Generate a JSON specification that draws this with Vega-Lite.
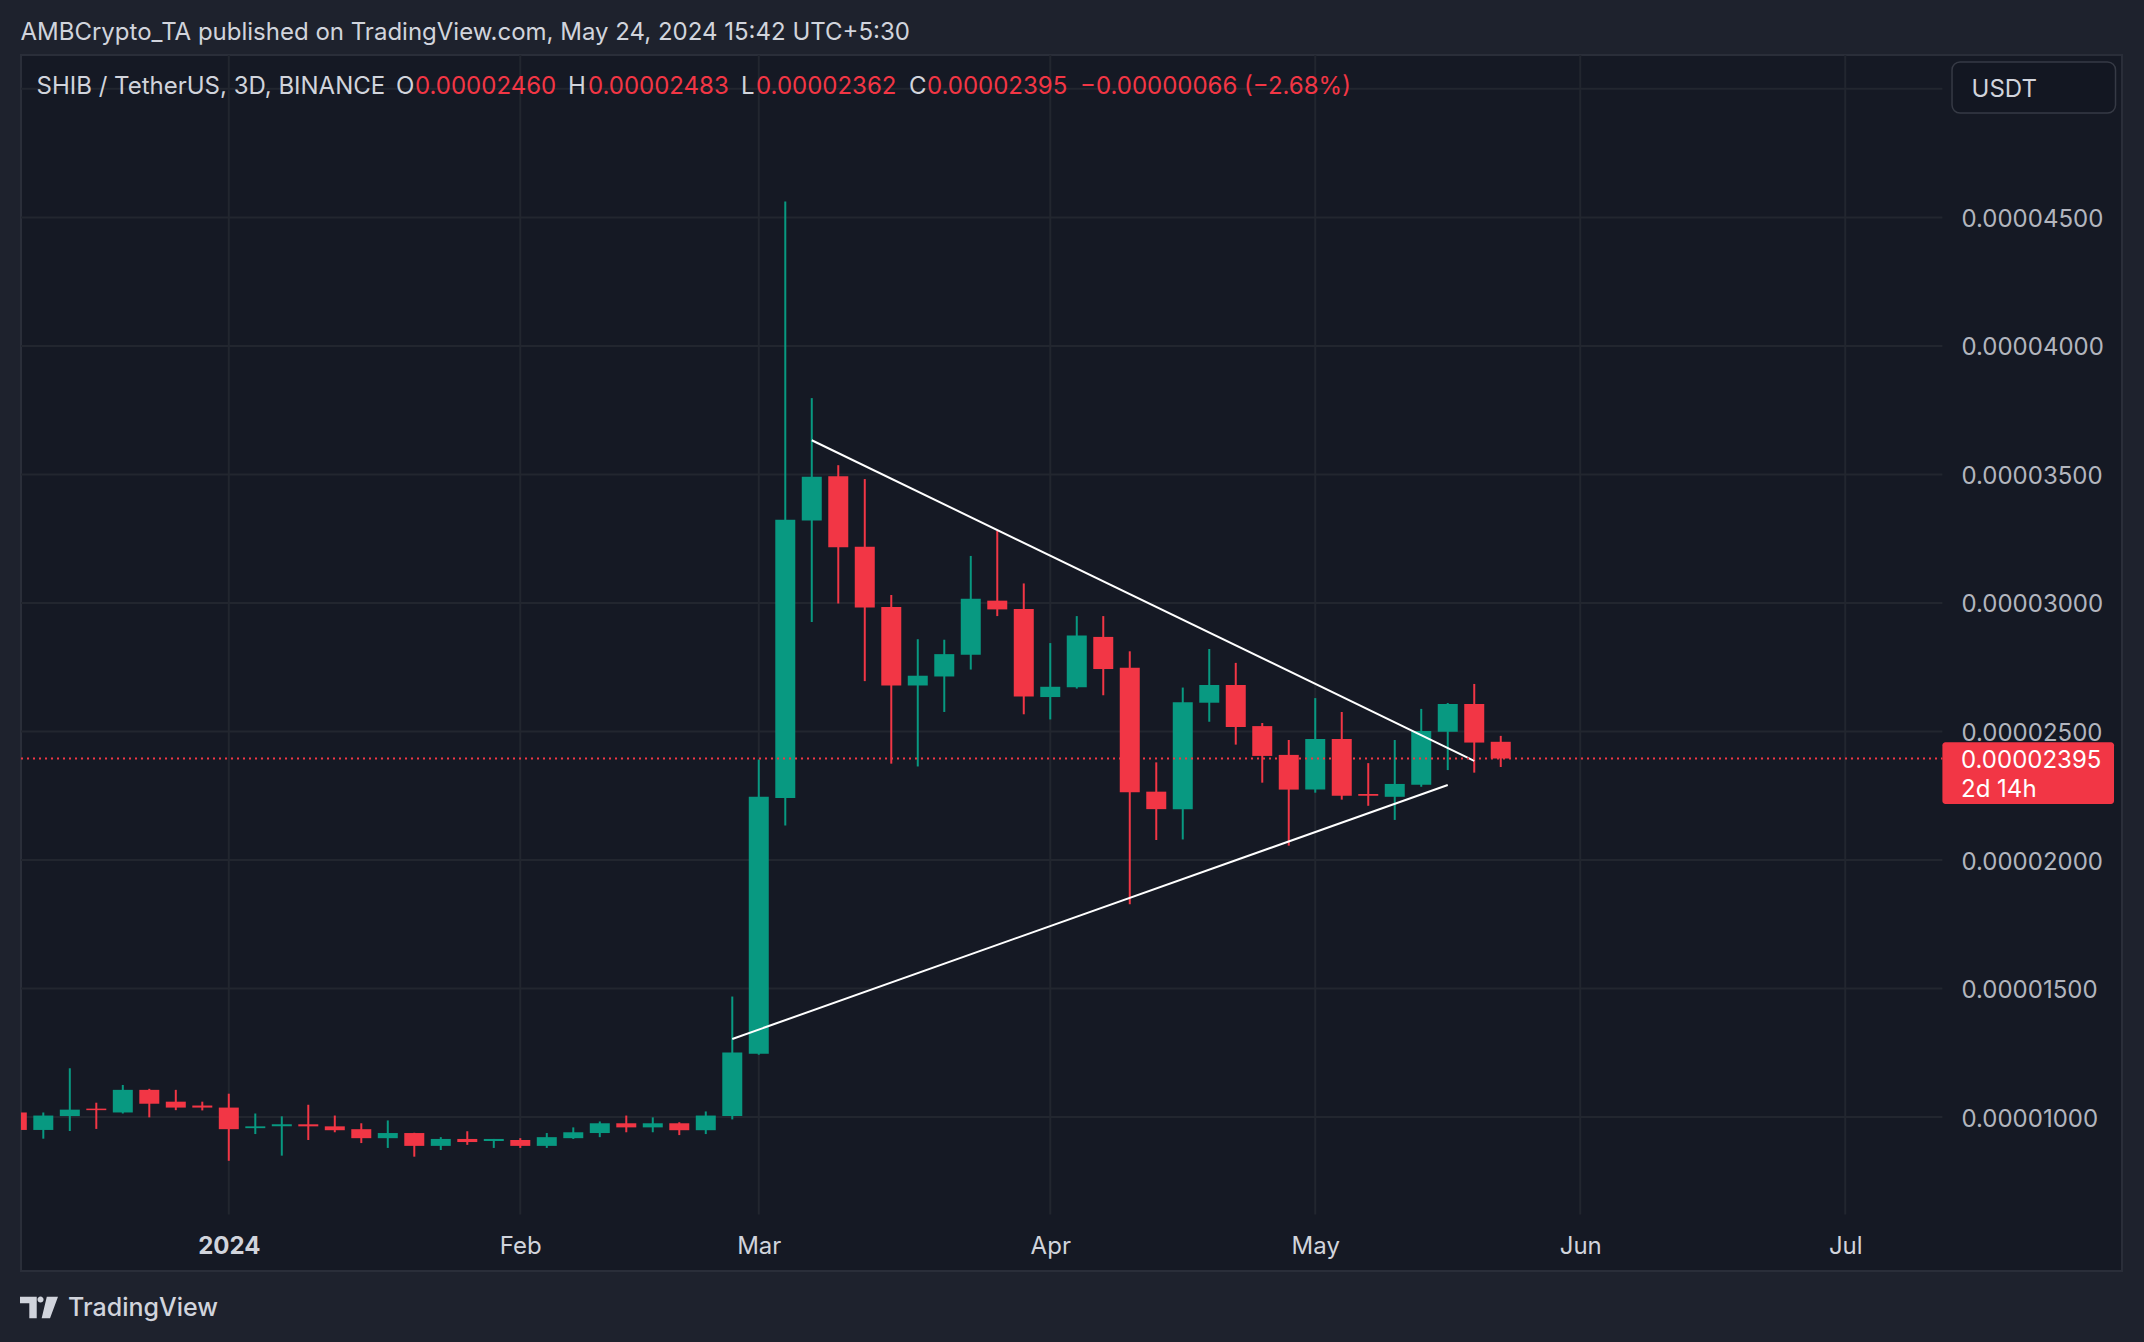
{
  "$schema": "https://vega.github.io/schema/vega-lite/v6.json",
  "width": 2101,
  "height": 1216,
  "autosize": {"type": "none"},
  "padding": {"left": 21, "top": 55, "right": 22, "bottom": 71},
  "background": "#1e222d",
  "config": {
    "view": {"fill": "#151924", "stroke": "#2a2e39", "strokeWidth": 2},
    "font": "Inter",
    "scale": {"continuousPadding": 0}
  },
  "datasets": {
    "candles": [
      {"date": "2023-12-08", "open": 1018e-8, "high": 1020e-8, "low": 945e-8, "close": 950e-8},
      {"date": "2023-12-11", "open": 950e-8, "high": 1018e-8, "low": 916e-8, "close": 1006e-8},
      {"date": "2023-12-14", "open": 1004e-8, "high": 1190e-8, "low": 946e-8, "close": 1029e-8},
      {"date": "2023-12-17", "open": 1033e-8, "high": 1056e-8, "low": 954e-8, "close": 1027e-8},
      {"date": "2023-12-20", "open": 1018e-8, "high": 1125e-8, "low": 1014e-8, "close": 1106e-8},
      {"date": "2023-12-23", "open": 1106e-8, "high": 1110e-8, "low": 999e-8, "close": 1052e-8},
      {"date": "2023-12-26", "open": 1060e-8, "high": 1106e-8, "low": 1027e-8, "close": 1037e-8},
      {"date": "2023-12-29", "open": 1045e-8, "high": 1060e-8, "low": 1026e-8, "close": 1037e-8},
      {"date": "2024-01-01", "open": 1037e-8, "high": 1091e-8, "low": 830e-8, "close": 953e-8},
      {"date": "2024-01-04", "open": 957e-8, "high": 1014e-8, "low": 934e-8, "close": 964e-8},
      {"date": "2024-01-07", "open": 964e-8, "high": 1003e-8, "low": 850e-8, "close": 972e-8},
      {"date": "2024-01-10", "open": 972e-8, "high": 1048e-8, "low": 911e-8, "close": 964e-8},
      {"date": "2024-01-13", "open": 964e-8, "high": 1006e-8, "low": 941e-8, "close": 949e-8},
      {"date": "2024-01-16", "open": 953e-8, "high": 976e-8, "low": 899e-8, "close": 918e-8},
      {"date": "2024-01-19", "open": 918e-8, "high": 987e-8, "low": 880e-8, "close": 938e-8},
      {"date": "2024-01-22", "open": 938e-8, "high": 939e-8, "low": 846e-8, "close": 888e-8},
      {"date": "2024-01-25", "open": 888e-8, "high": 922e-8, "low": 872e-8, "close": 915e-8},
      {"date": "2024-01-28", "open": 915e-8, "high": 945e-8, "low": 892e-8, "close": 903e-8},
      {"date": "2024-01-31", "open": 907e-8, "high": 915e-8, "low": 880e-8, "close": 915e-8},
      {"date": "2024-02-03", "open": 911e-8, "high": 918e-8, "low": 880e-8, "close": 888e-8},
      {"date": "2024-02-06", "open": 888e-8, "high": 938e-8, "low": 880e-8, "close": 922e-8},
      {"date": "2024-02-09", "open": 918e-8, "high": 960e-8, "low": 915e-8, "close": 941e-8},
      {"date": "2024-02-12", "open": 938e-8, "high": 983e-8, "low": 922e-8, "close": 976e-8},
      {"date": "2024-02-15", "open": 976e-8, "high": 1006e-8, "low": 941e-8, "close": 960e-8},
      {"date": "2024-02-18", "open": 960e-8, "high": 999e-8, "low": 941e-8, "close": 976e-8},
      {"date": "2024-02-21", "open": 976e-8, "high": 980e-8, "low": 930e-8, "close": 949e-8},
      {"date": "2024-02-24", "open": 949e-8, "high": 1022e-8, "low": 934e-8, "close": 1006e-8},
      {"date": "2024-02-27", "open": 1004e-8, "high": 1469e-8, "low": 991e-8, "close": 1251e-8},
      {"date": "2024-03-01", "open": 1246e-8, "high": 2391e-8, "low": 1243e-8, "close": 2246e-8},
      {"date": "2024-03-04", "open": 2241e-8, "high": 4562e-8, "low": 2134e-8, "close": 3324e-8},
      {"date": "2024-03-07", "open": 3321e-8, "high": 3797e-8, "low": 2926e-8, "close": 3491e-8},
      {"date": "2024-03-10", "open": 3493e-8, "high": 3536e-8, "low": 2998e-8, "close": 3217e-8},
      {"date": "2024-03-13", "open": 3219e-8, "high": 3482e-8, "low": 2696e-8, "close": 2982e-8},
      {"date": "2024-03-16", "open": 2984e-8, "high": 3031e-8, "low": 2375e-8, "close": 2679e-8},
      {"date": "2024-03-19", "open": 2679e-8, "high": 2859e-8, "low": 2364e-8, "close": 2717e-8},
      {"date": "2024-03-22", "open": 2714e-8, "high": 2857e-8, "low": 2576e-8, "close": 2801e-8},
      {"date": "2024-03-25", "open": 2799e-8, "high": 3183e-8, "low": 2741e-8, "close": 3016e-8},
      {"date": "2024-03-28", "open": 3009e-8, "high": 3281e-8, "low": 2949e-8, "close": 2975e-8},
      {"date": "2024-03-31", "open": 2977e-8, "high": 3076e-8, "low": 2567e-8, "close": 2636e-8},
      {"date": "2024-04-03", "open": 2634e-8, "high": 2844e-8, "low": 2547e-8, "close": 2674e-8},
      {"date": "2024-04-06", "open": 2672e-8, "high": 2949e-8, "low": 2667e-8, "close": 2873e-8},
      {"date": "2024-04-09", "open": 2868e-8, "high": 2949e-8, "low": 2641e-8, "close": 2743e-8},
      {"date": "2024-04-12", "open": 2748e-8, "high": 2812e-8, "low": 1828e-8, "close": 2264e-8},
      {"date": "2024-04-15", "open": 2266e-8, "high": 2380e-8, "low": 2078e-8, "close": 2198e-8},
      {"date": "2024-04-18", "open": 2198e-8, "high": 2671e-8, "low": 2080e-8, "close": 2614e-8},
      {"date": "2024-04-21", "open": 2612e-8, "high": 2821e-8, "low": 2538e-8, "close": 2681e-8},
      {"date": "2024-04-24", "open": 2681e-8, "high": 2767e-8, "low": 2449e-8, "close": 2518e-8},
      {"date": "2024-04-27", "open": 2521e-8, "high": 2533e-8, "low": 2301e-8, "close": 2405e-8},
      {"date": "2024-04-30", "open": 2409e-8, "high": 2467e-8, "low": 2056e-8, "close": 2274e-8},
      {"date": "2024-05-03", "open": 2274e-8, "high": 2630e-8, "low": 2262e-8, "close": 2471e-8},
      {"date": "2024-05-06", "open": 2471e-8, "high": 2576e-8, "low": 2235e-8, "close": 2250e-8},
      {"date": "2024-05-09", "open": 2257e-8, "high": 2377e-8, "low": 2211e-8, "close": 2250e-8},
      {"date": "2024-05-12", "open": 2246e-8, "high": 2467e-8, "low": 2156e-8, "close": 2296e-8},
      {"date": "2024-05-15", "open": 2293e-8, "high": 2588e-8, "low": 2285e-8, "close": 2502e-8},
      {"date": "2024-05-18", "open": 2499e-8, "high": 2611e-8, "low": 2350e-8, "close": 2607e-8},
      {"date": "2024-05-21", "open": 2607e-8, "high": 2685e-8, "low": 2340e-8, "close": 2457e-8},
      {"date": "2024-05-24", "open": 2460e-8, "high": 2483e-8, "low": 2362e-8, "close": 2395e-8}
    ],
    "trend": [
      {"line": "upper", "date": "2024-03-07", "price": 3633e-8},
      {"line": "upper", "date": "2024-05-21", "price": 2386e-8},
      {"line": "lower", "date": "2024-02-27", "price": 1304e-8},
      {"line": "lower", "date": "2024-05-18", "price": 2292e-8}
    ],
    "vgrid": [
      {"date": "2024-01-01"}, {"date": "2024-02-03"}, {"date": "2024-03-01"}, {"date": "2024-04-03"},
      {"date": "2024-05-03"}, {"date": "2024-06-02"}, {"date": "2024-07-02"}
    ],
    "hgrid": [
      {"price": 1000e-8}, {"price": 1500e-8}, {"price": 2000e-8}, {"price": 2500e-8}, {"price": 3000e-8},
      {"price": 3500e-8}, {"price": 4000e-8}, {"price": 4500e-8}, {"price": 5000e-8}
    ],
    "one": [{}]
  },
  "layer": [
    {
      "data": {"name": "vgrid"},
      "mark": {"type": "rule", "color": "#22262f", "strokeWidth": 2},
      "encoding": {
        "x": {
          "field": "date", "type": "temporal",
          "scale": {"type": "utc", "nice": false, "padding": 0, "domain": [{"year": 2023, "month": 12, "date": 8, "hours": 11, "minutes": 24, "utc": true}, {"year": 2024, "month": 8, "date": 2, "hours": 8, "utc": true}]},
          "axis": {
            "values": [
              {"year": 2024, "month": 1, "date": 1, "utc": true},
              {"year": 2024, "month": 2, "date": 3, "utc": true},
              {"year": 2024, "month": 3, "date": 1, "utc": true},
              {"year": 2024, "month": 4, "date": 3, "utc": true},
              {"year": 2024, "month": 5, "date": 3, "utc": true},
              {"year": 2024, "month": 6, "date": 2, "utc": true},
              {"year": 2024, "month": 7, "date": 2, "utc": true}
            ],
            "orient": "bottom", "offset": -57, "grid": false, "domain": false, "ticks": false,
            "labelPadding": 32, "labelBaseline": "middle", "labelFontSize": 24, "labelFont": "Inter",
            "labelColor": "#d1d4dc", "labelOverlap": false, "labelFlush": false, "title": null,
            "labelExpr": "utcmonth(datum.value) === 0 ? '2024' : utcFormat(datum.value, '%b')",
            "labelFontWeight": {"condition": {"test": "utcmonth(datum.value) === 0", "value": "bold"}, "value": "normal"}
          }
        },
        "y": {"datum": 5131.7e-8, "type": "quantitative"},
        "y2": {"datum": 621e-8}
      }
    },
    {
      "data": {"name": "hgrid"},
      "mark": {"type": "rule", "color": "#22262f", "strokeWidth": 2},
      "encoding": {
        "y": {
          "field": "price", "type": "quantitative",
          "scale": {"domain": [401.3e-8, 5131.7e-8], "nice": false, "zero": false, "padding": 0},
          "axis": {
            "values": [1000e-8, 1500e-8, 2000e-8, 2500e-8, 3000e-8, 3500e-8, 4000e-8, 4500e-8],
            "orient": "right", "offset": -179, "grid": false, "domain": false, "ticks": false,
            "labelPadding": 18, "labelAlign": "left", "labelBaseline": "middle", "labelOffset": 2,
            "labelFontSize": 24, "labelFont": "Inter", "labelColor": "#b2b5be",
            "format": ".8f", "title": null, "labelOverlap": false, "labelFlush": false
          }
        },
        "x": {"datum": {"year": 2023, "month": 12, "date": 8, "hours": 11, "minutes": 24, "utc": true}, "type": "temporal"},
        "x2": {"datum": {"year": 2024, "month": 7, "date": 13, "utc": true}}
      }
    },
    {
      "data": {"name": "candles"},
      "mark": {"type": "rule", "strokeWidth": 2, "clip": true},
      "encoding": {
        "x": {"field": "date", "type": "temporal"},
        "y": {"field": "low", "type": "quantitative"},
        "y2": {"field": "high"},
        "color": {"condition": {"test": "datum.close >= datum.open", "value": "#089981"}, "value": "#f23645"}
      }
    },
    {
      "data": {"name": "candles"},
      "mark": {"type": "bar", "width": 20, "clip": true},
      "encoding": {
        "x": {"field": "date", "type": "temporal"},
        "y": {"field": "open", "type": "quantitative"},
        "y2": {"field": "close"},
        "color": {"condition": {"test": "datum.close >= datum.open", "value": "#089981"}, "value": "#f23645"}
      }
    },
    {
      "data": {"name": "trend"},
      "mark": {"type": "line", "color": "#ffffff", "strokeWidth": 2, "clip": true},
      "encoding": {
        "x": {"field": "date", "type": "temporal"},
        "y": {"field": "price", "type": "quantitative"},
        "detail": {"field": "line"}
      }
    },
    {
      "data": {"name": "one"},
      "mark": {"type": "rule", "color": "#f23645", "strokeWidth": 2, "strokeDash": [2, 4]},
      "encoding": {
        "y": {"datum": 2395e-8, "type": "quantitative"},
        "x": {"datum": {"year": 2023, "month": 12, "date": 8, "hours": 11, "minutes": 24, "utc": true}, "type": "temporal"},
        "x2": {"datum": {"year": 2024, "month": 7, "date": 13, "utc": true}}
      }
    },
    {
      "data": {"name": "one"},
      "mark": {"type": "rect", "color": "#f23645", "cornerRadius": 3},
      "encoding": {
        "x": {"datum": {"year": 2024, "month": 7, "date": 13, "utc": true}, "type": "temporal"},
        "x2": {"datum": {"year": 2024, "month": 8, "date": 1, "hours": 10, "minutes": 19, "utc": true}},
        "y": {"datum": 2458.4e-8, "type": "quantitative"},
        "y2": {"datum": 2218e-8}
      }
    },
    {
      "data": {"name": "one"},
      "mark": {"type": "text", "text": "0.00002395", "align": "left", "baseline": "middle", "fontSize": 24, "font": "Inter", "color": "#ffffff"},
      "encoding": {
        "x": {"datum": {"year": 2024, "month": 7, "date": 15, "hours": 2, "minutes": 38, "utc": true}, "type": "temporal"},
        "y": {"datum": 2384e-8, "type": "quantitative"}
      }
    },
    {
      "data": {"name": "one"},
      "mark": {"type": "text", "text": "2d 14h", "align": "left", "baseline": "middle", "fontSize": 24, "font": "Inter", "color": "#ffffff"},
      "encoding": {
        "x": {"datum": {"year": 2024, "month": 7, "date": 15, "hours": 2, "minutes": 38, "utc": true}, "type": "temporal"},
        "y": {"datum": 2274e-8, "type": "quantitative"}
      }
    },
    {
      "data": {"name": "one"},
      "mark": {"type": "rect", "fill": "#131722", "stroke": "#363a45", "strokeWidth": 1.5, "cornerRadius": 8},
      "encoding": {
        "x": {"datum": {"year": 2024, "month": 7, "date": 14, "hours": 2, "minutes": 10, "utc": true}, "type": "temporal"},
        "x2": {"datum": {"year": 2024, "month": 8, "date": 1, "hours": 14, "minutes": 24, "utc": true}},
        "y": {"datum": 5104.5e-8, "type": "quantitative"},
        "y2": {"datum": 4906e-8}
      }
    },
    {
      "data": {"name": "one"},
      "mark": {"type": "text", "text": "USDT", "align": "left", "baseline": "middle", "fontSize": 24, "font": "Inter", "color": "#d1d4dc"},
      "encoding": {
        "x": {"datum": {"year": 2024, "month": 7, "date": 16, "hours": 7, "minutes": 12, "utc": true}, "type": "temporal"},
        "y": {"datum": 4996e-8, "type": "quantitative"}
      }
    },
    {
      "data": {"name": "one"},
      "mark": {"type": "text", "text": "AMBCrypto_TA published on TradingView.com, May 24, 2024 15:42 UTC+5:30", "align": "left", "baseline": "middle", "fontSize": 24, "font": "Inter", "color": "#d1d4dc"},
      "encoding": {
        "x": {"datum": {"year": 2023, "month": 12, "date": 8, "hours": 10, "utc": true}, "type": "temporal"},
        "y": {"datum": 5219e-8, "type": "quantitative"}
      }
    },
    {
      "data": {"name": "one"},
      "mark": {"type": "text", "text": "SHIB / TetherUS, 3D, BINANCE", "align": "left", "baseline": "middle", "fontSize": 24, "font": "Inter", "color": "#d1d4dc"},
      "encoding": {
        "x": {"datum": {"year": 2023, "month": 12, "date": 10, "hours": 5, "minutes": 31, "utc": true}, "type": "temporal"},
        "y": {"datum": 5009e-8, "type": "quantitative"}
      }
    },
    {
      "data": {"name": "one"},
      "mark": {"type": "text", "text": "O", "align": "left", "baseline": "middle", "fontSize": 24, "font": "Inter", "color": "#d1d4dc"},
      "encoding": {
        "x": {"datum": {"year": 2024, "month": 1, "date": 19, "hours": 22, "minutes": 19, "utc": true}, "type": "temporal"},
        "y": {"datum": 5009e-8, "type": "quantitative"}
      }
    },
    {
      "data": {"name": "one"},
      "mark": {"type": "text", "text": "0.00002460", "align": "left", "baseline": "middle", "fontSize": 24, "font": "Inter", "color": "#f23645"},
      "encoding": {
        "x": {"datum": {"year": 2024, "month": 1, "date": 22, "hours": 1, "minutes": 55, "utc": true}, "type": "temporal"},
        "y": {"datum": 5009e-8, "type": "quantitative"}
      }
    },
    {
      "data": {"name": "one"},
      "mark": {"type": "text", "text": "H", "align": "left", "baseline": "middle", "fontSize": 24, "font": "Inter", "color": "#d1d4dc"},
      "encoding": {
        "x": {"datum": {"year": 2024, "month": 2, "date": 8, "hours": 9, "minutes": 36, "utc": true}, "type": "temporal"},
        "y": {"datum": 5009e-8, "type": "quantitative"}
      }
    },
    {
      "data": {"name": "one"},
      "mark": {"type": "text", "text": "0.00002483", "align": "left", "baseline": "middle", "fontSize": 24, "font": "Inter", "color": "#f23645"},
      "encoding": {
        "x": {"datum": {"year": 2024, "month": 2, "date": 10, "hours": 15, "minutes": 50, "utc": true}, "type": "temporal"},
        "y": {"datum": 5009e-8, "type": "quantitative"}
      }
    },
    {
      "data": {"name": "one"},
      "mark": {"type": "text", "text": "L", "align": "left", "baseline": "middle", "fontSize": 24, "font": "Inter", "color": "#d1d4dc"},
      "encoding": {
        "x": {"datum": {"year": 2024, "month": 2, "date": 27, "hours": 23, "minutes": 31, "utc": true}, "type": "temporal"},
        "y": {"datum": 5009e-8, "type": "quantitative"}
      }
    },
    {
      "data": {"name": "one"},
      "mark": {"type": "text", "text": "0.00002362", "align": "left", "baseline": "middle", "fontSize": 24, "font": "Inter", "color": "#f23645"},
      "encoding": {
        "x": {"datum": {"year": 2024, "month": 2, "date": 29, "hours": 16, "minutes": 34, "utc": true}, "type": "temporal"},
        "y": {"datum": 5009e-8, "type": "quantitative"}
      }
    },
    {
      "data": {"name": "one"},
      "mark": {"type": "text", "text": "C", "align": "left", "baseline": "middle", "fontSize": 24, "font": "Inter", "color": "#d1d4dc"},
      "encoding": {
        "x": {"datum": {"year": 2024, "month": 3, "date": 18, "hours": 0, "minutes": 14, "utc": true}, "type": "temporal"},
        "y": {"datum": 5009e-8, "type": "quantitative"}
      }
    },
    {
      "data": {"name": "one"},
      "mark": {"type": "text", "text": "0.00002395", "align": "left", "baseline": "middle", "fontSize": 24, "font": "Inter", "color": "#f23645"},
      "encoding": {
        "x": {"datum": {"year": 2024, "month": 3, "date": 20, "hours": 1, "minutes": 0, "utc": true}, "type": "temporal"},
        "y": {"datum": 5009e-8, "type": "quantitative"}
      }
    },
    {
      "data": {"name": "one"},
      "mark": {"type": "text", "text": "−0.00000066 (−2.68%)", "align": "left", "baseline": "middle", "fontSize": 24, "font": "Inter", "color": "#f23645"},
      "encoding": {
        "x": {"datum": {"year": 2024, "month": 4, "date": 6, "hours": 8, "minutes": 53, "utc": true}, "type": "temporal"},
        "y": {"datum": 5009e-8, "type": "quantitative"}
      }
    },
    {
      "data": {"name": "one"},
      "mark": {"type": "text", "text": "TradingView", "align": "left", "baseline": "middle", "fontSize": 25, "fontWeight": 500, "font": "Inter", "color": "#d1d4dc"},
      "encoding": {
        "x": {"datum": {"year": 2023, "month": 12, "date": 13, "hours": 19, "minutes": 12, "utc": true}, "type": "temporal"},
        "y": {"datum": 257.4e-8, "type": "quantitative"}
      }
    },
    {
      "data": {"name": "one"},
      "mark": {"type": "point", "shape": "M-1,-0.57H-0.12V0.57H-0.51V-0.22H-1Z M0.41,-0.57H1L0.58,0.57H0.14Z M-0.08,-0.42A0.16,0.16 0 1,0 0.24,-0.42A0.16,0.16 0 1,0 -0.08,-0.42Z", "size": 1444, "filled": true, "color": "#d1d4dc", "opacity": 1, "strokeWidth": 0},
      "encoding": {
        "x": {"datum": {"year": 2023, "month": 12, "date": 10, "hours": 12, "minutes": 19, "utc": true}, "type": "temporal"},
        "y": {"datum": 259.3e-8, "type": "quantitative"}
      }
    }
  ]
}
